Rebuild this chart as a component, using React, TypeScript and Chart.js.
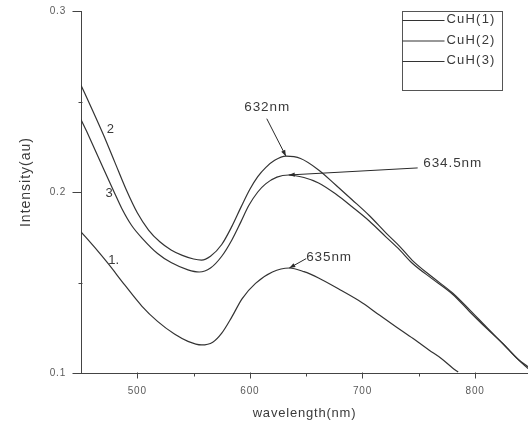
import React, { useEffect, useRef } from "react";
import { Chart, registerables } from "chart.js";

Chart.register(...registerables);

// ---- data ----
const SERIES_NAMES = ["CuH(1)", "CuH(2)", "CuH(3)"];

const WL1 = [450, 462, 474, 489, 504, 518, 533, 545, 557, 567, 575, 584, 593, 605, 620, 635, 648, 661, 680, 700, 715, 730, 745, 759, 770, 780, 785];
const I1 = [0.178, 0.1695, 0.1605, 0.1485, 0.137, 0.1285, 0.1215, 0.1175, 0.1155, 0.117, 0.122, 0.131, 0.141, 0.1495, 0.1558, 0.158, 0.156, 0.1525, 0.146, 0.1387, 0.132, 0.1254, 0.119, 0.1127, 0.108, 0.1028, 0.1005];

const WL2 = [450, 460, 470, 480, 490, 500, 510, 520, 530, 540, 550, 557, 565, 575, 584, 592, 600, 607, 614, 622, 632, 645, 661, 676, 691, 706, 721, 733, 744, 762, 780, 795, 810, 825, 839, 847];
const I2 = [0.259, 0.2455, 0.2315, 0.2165, 0.2015, 0.1885, 0.179, 0.1725, 0.168, 0.165, 0.163, 0.1624, 0.1645, 0.171, 0.181, 0.1915, 0.2015, 0.2085, 0.2135, 0.2175, 0.2198, 0.2185, 0.2122, 0.204, 0.1956, 0.187, 0.1773, 0.17, 0.1624, 0.153, 0.1442, 0.135, 0.1254, 0.116, 0.1072, 0.1035];

const WL3 = [450, 455, 460, 470, 480, 486, 495, 505, 518, 530, 545, 555, 565, 575, 584, 592, 599, 607, 614, 624, 634.5, 648, 661, 676, 691, 706, 721, 733, 744, 762, 780, 795, 810, 825, 839, 847];
const I3 = [0.24, 0.2335, 0.2267, 0.2128, 0.1992, 0.1912, 0.1815, 0.174, 0.166, 0.161, 0.157, 0.1558, 0.158, 0.1645, 0.1735, 0.1835, 0.1925, 0.2, 0.2045, 0.2082, 0.2094, 0.208, 0.205, 0.199, 0.1917, 0.184, 0.1751, 0.168, 0.1608, 0.152, 0.1435, 0.134, 0.1248, 0.116, 0.107, 0.1025];

// peak annotations
const PEAK_LABELS = ["635nm", "632nm", "634.5nm"];
const PEAK_WL = [635, 632, 634.5];
const PEAK_I = [0.158, 0.2198, 0.2094];

// axis ticks
const X_MAJOR = [500, 600, 700, 800];
const X_MINOR = [550, 650, 750];
const Y_MAJOR = [0.1, 0.2, 0.3];
const Y_MINOR = [0.15, 0.25];

// curve number labels
const CURVE_TAGS = ["1.", "2", "3"];

// ---- placement (not data) ----
const LABEL_POS = [
  { tx: 650, ty: 0.164, lx: 650, ly: 0.1632 },
  { tx: 595, ty: 0.247, lx: 615, ly: 0.2405 },
  { tx: 754, ty: 0.216, lx: 749, ly: 0.2133 },
];
const TAG_POS = [
  { x: 479, y: 0.1624 },
  { x: 476, y: 0.2343 },
  { x: 475, y: 0.1994 },
];

const FONT = "'Liberation Sans', Arial, sans-serif";
const LINE = "#333333";
const INK = "#3a3a3a";

function isIn(list: number[], v: number) {
  return list.some((m) => Math.abs(m - v) < 1e-9);
}

function arrow(ctx: CanvasRenderingContext2D, x0: number, y0: number, x1: number, y1: number) {
  ctx.beginPath();
  ctx.moveTo(x0, y0);
  ctx.lineTo(x1, y1);
  ctx.stroke();
  const a = Math.atan2(y1 - y0, x1 - x0);
  const L = 6, W = 2.2;
  ctx.beginPath();
  ctx.moveTo(x1, y1);
  ctx.lineTo(x1 - L * Math.cos(a) + W * Math.sin(a), y1 - L * Math.sin(a) - W * Math.cos(a));
  ctx.lineTo(x1 - L * Math.cos(a) - W * Math.sin(a), y1 - L * Math.sin(a) + W * Math.cos(a));
  ctx.closePath();
  ctx.fill();
}

const decor = {
  id: "decor",
  beforeDraw(chart: any) {
    (chart.ctx as any).letterSpacing = "0.8px";
  },
  afterDraw(chart: any) {
    const { ctx, chartArea } = chart;
    const xs = chart.scales.x;
    const ys = chart.scales.y;
    ctx.save();
    ctx.strokeStyle = "#444";
    ctx.lineWidth = 1;
    // tick marks
    const axY = Math.round(chartArea.bottom) + 0.5;
    const axX = Math.round(chartArea.left) + 0.5;
    ctx.beginPath();
    for (const v of X_MAJOR) {
      const p = Math.round(xs.getPixelForValue(v)) + 0.5;
      ctx.moveTo(p, axY - 1);
      ctx.lineTo(p, axY + 5);
    }
    for (const v of X_MINOR) {
      const p = Math.round(xs.getPixelForValue(v)) + 0.5;
      ctx.moveTo(p, axY);
      ctx.lineTo(p, axY + 3);
    }
    for (const v of Y_MAJOR) {
      const p = Math.round(ys.getPixelForValue(v)) + 0.5;
      ctx.moveTo(axX, p);
      ctx.lineTo(axX - 9, p);
    }
    for (const v of Y_MINOR) {
      const p = Math.round(ys.getPixelForValue(v)) + 0.5;
      ctx.moveTo(axX + 1, p);
      ctx.lineTo(axX - 3, p);
    }
    ctx.stroke();

    // y title
    ctx.fillStyle = INK;
    ctx.font = `14px ${FONT}`;
    (ctx as any).letterSpacing = "1px";
    ctx.textAlign = "center";
    ctx.textBaseline = "middle";
    ctx.save();
    ctx.translate(26, (chartArea.top + chartArea.bottom) / 2 - 10);
    ctx.rotate(-Math.PI / 2);
    ctx.fillText("Intensity(au)", 0, 0);
    ctx.restore();

    // legend box
    const bx = Math.round(chartArea.right - 126) + 0.5;
    const by = Math.round(chartArea.top) + 0.5;
    ctx.strokeStyle = "#555";
    ctx.lineWidth = 1;
    ctx.strokeRect(bx, by, 100, 79);
    ctx.strokeStyle = LINE;
    ctx.lineWidth = 1.1;
    ctx.font = `13px ${FONT}`;
    (ctx as any).letterSpacing = "1.2px";
    ctx.textAlign = "left";
    ctx.fillStyle = INK;
    SERIES_NAMES.forEach((name, i) => {
      const ly = by + 9 + i * 20.5;
      ctx.beginPath();
      ctx.moveTo(bx, ly);
      ctx.lineTo(bx + 42, ly);
      ctx.stroke();
      ctx.fillText(name, bx + 44, ly - 1);
    });

    // peak annotations
    ctx.lineWidth = 1;
    ctx.strokeStyle = "#2a2a2a";
    ctx.fillStyle = "#2a2a2a";
    PEAK_LABELS.forEach((lab, i) => {
      const pos = LABEL_POS[i];
      const x0 = xs.getPixelForValue(pos.lx);
      const y0 = ys.getPixelForValue(pos.ly);
      const x1 = xs.getPixelForValue(PEAK_WL[i]);
      const y1 = ys.getPixelForValue(PEAK_I[i]);
      arrow(ctx, x0, y0, x1, y1);
    });
    ctx.fillStyle = INK;
    ctx.font = `13.5px ${FONT}`;
    (ctx as any).letterSpacing = "0.9px";
    ctx.textAlign = "left";
    ctx.textBaseline = "middle";
    PEAK_LABELS.forEach((lab, i) => {
      const pos = LABEL_POS[i];
      ctx.fillText(lab, xs.getPixelForValue(pos.tx), ys.getPixelForValue(pos.ty));
    });

    // curve number tags
    ctx.font = `13px ${FONT}`;
    (ctx as any).letterSpacing = "0px";
    ctx.textAlign = "center";
    CURVE_TAGS.forEach((t, i) => {
      ctx.fillText(t, xs.getPixelForValue(TAG_POS[i].x), ys.getPixelForValue(TAG_POS[i].y));
    });
    ctx.restore();
    (ctx as any).letterSpacing = "0px";
  },
};

export default function App() {
  const ref = useRef<HTMLCanvasElement | null>(null);
  useEffect(() => {
    if (!ref.current) return;
    const mk = (xs: number[], ys: number[]) => xs.map((x, i) => ({ x, y: ys[i] }));
    const series = [mk(WL1, I1), mk(WL2, I2), mk(WL3, I3)];
    const chart = new Chart(ref.current, {
      type: "line",
      data: {
        datasets: series.map((d, i) => ({
          label: SERIES_NAMES[i],
          data: d,
          borderColor: LINE,
          borderWidth: 1.2,
          pointRadius: 0,
          fill: false,
          cubicInterpolationMode: "monotone" as const,
        })),
      },
      options: {
        animation: false,
        responsive: false,
        maintainAspectRatio: false,
        events: [],
        layout: { padding: { left: 0, right: 0, top: 11, bottom: 0 } },
        plugins: { legend: { display: false }, tooltip: { enabled: false } },
        scales: {
          x: {
            type: "linear",
            min: 450,
            max: 847,
            grid: { display: true, drawOnChartArea: false, drawTicks: false },
            border: { display: true, color: "#444", width: 1 },
            afterBuildTicks: (s: any) => {
              s.ticks = [...X_MAJOR, ...X_MINOR].sort((a, b) => a - b).map((v) => ({ value: v }));
            },
            ticks: {
              autoSkip: false,
              maxRotation: 0,
              padding: 12,
              color: "#5a5a5a",
              font: { size: 10, family: FONT },
              callback: (v: any) => (isIn(X_MAJOR, Number(v)) ? String(v) : ""),
            },
            title: {
              display: true,
              text: "wavelength(nm)",
              color: INK,
              font: { size: 13, family: FONT },
              padding: { top: 0, bottom: 4 },
            },
            afterFit: (s: any) => {
              s.height = 52;
              s.paddingLeft = 0;
              s.paddingRight = 0;
            },
          },
          y: {
            type: "linear",
            min: 0.1,
            max: 0.3,
            grid: { display: true, drawOnChartArea: false, drawTicks: false },
            border: { display: true, color: "#444", width: 1 },
            afterBuildTicks: (s: any) => {
              s.ticks = [...Y_MAJOR, ...Y_MINOR].sort((a, b) => a - b).map((v) => ({ value: v }));
            },
            ticks: {
              autoSkip: false,
              padding: 15,
              color: "#5a5a5a",
              font: { size: 10, family: FONT },
              callback: (v: any) => (isIn(Y_MAJOR, Number(v)) ? Number(v).toFixed(1) : ""),
            },
            afterFit: (s: any) => {
              s.width = 81;
              s.paddingTop = 0;
              s.paddingBottom = 0;
            },
          },
        },
      },
      plugins: [decor],
    });
    return () => chart.destroy();
  }, []);
  return (
    <div style={{ position: "fixed", left: 0, top: 0, width: 528, height: 425, background: "#ffffff" }}>
      <canvas ref={ref} width={528} height={425} style={{ display: "block", width: 528, height: 425 }} />
    </div>
  );
}
